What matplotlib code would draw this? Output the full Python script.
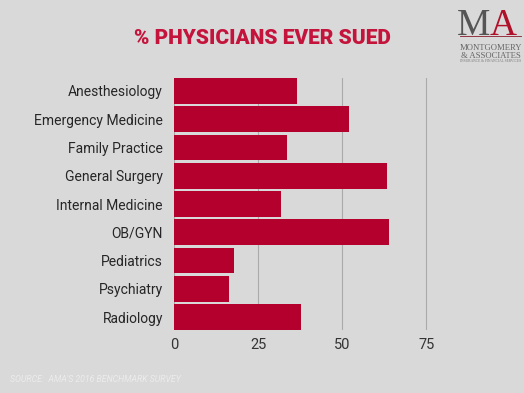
import matplotlib
matplotlib.use("Agg")
import matplotlib.pyplot as plt

categories = ["Anesthesiology", "Emergency Medicine", "Family Practice", "General Surgery",
              "Internal Medicine", "OB/GYN", "Pediatrics", "Psychiatry", "Radiology"]
values = [36.5, 51.9, 33.5, 63.4, 31.8, 63.8, 17.9, 16.3, 37.7]
xticks = [0, 25, 50, 75]
title = "% PHYSICIANS EVER SUED"
source = "SOURCE:  AMA'S 2016 BENCHMARK SURVEY"

BG = "#d9d9d9"
BAR = "#b3002d"

fig = plt.figure(figsize=(5.24, 3.93), dpi=100, facecolor=BG)
ax = fig.add_axes([174/524, 63/393, 269/524, 252/393])
ax.set_facecolor(BG)

ypos = list(range(len(categories)))
ax.barh(ypos, values, height=0.914, color=BAR, zorder=3)
ax.set_ylim(len(categories) - 1 + 0.457, -0.457)
ax.set_xlim(0, 80)
ax.set_yticks(ypos)
ax.set_yticklabels(categories, fontfamily="Roboto", fontsize=10, color="#262626")
ax.set_xticks(xticks)
ax.set_xticklabels([str(t) for t in xticks], fontfamily="Roboto", fontsize=10.5, color="#333333")
ax.tick_params(axis="both", length=0)
ax.tick_params(axis="y", pad=8)
ax.tick_params(axis="x", pad=6)
for s in ax.spines.values():
    s.set_visible(False)
ax.grid(axis="x", color="#aaaaaa", linewidth=0.8, zorder=0)
ax.grid(axis="y", visible=False)

fig.text(262/524, 1 - 38/393, title, ha="center", va="center",
         fontfamily="Roboto", fontweight="heavy", fontstretch="condensed",
         fontsize=15, color="#c4143c")

fig.text(10/524, 1 - 379/393, source, ha="left", va="center", fontfamily="Roboto",
         fontstyle="italic", fontsize=6.3, color="#ececec")

# logo
fig.text(490/524, 1 - 35/393, "M", ha="right", va="baseline", fontfamily="Liberation Serif",
         fontsize=27, color="#555555")
fig.text(490/524, 1 - 35/393, "A", ha="left", va="baseline", fontfamily="Liberation Serif",
         fontsize=27, color="#b0102a")
fig.lines.append(plt.Line2D([460/524, 521/524], [1 - 36/393, 1 - 36/393],
                            transform=fig.transFigure, color="#8a1a2a", linewidth=0.6))
fig.text(491/524, 1 - 48.5/393, "MONTGOMERY", ha="center", va="center", fontfamily="Liberation Serif",
         fontsize=6.2, color="#666666")
fig.text(491/524, 1 - 55.5/393, "& ASSOCIATES", ha="center", va="center", fontfamily="Liberation Serif",
         fontsize=6.2, color="#666666")
fig.text(491/524, 1 - 61.5/393, "INSURANCE & FINANCIAL SERVICES", ha="center", va="center",
         fontfamily="Liberation Serif", fontsize=2.6, color="#777777")

fig.savefig("out.png", dpi=100, facecolor=BG)
